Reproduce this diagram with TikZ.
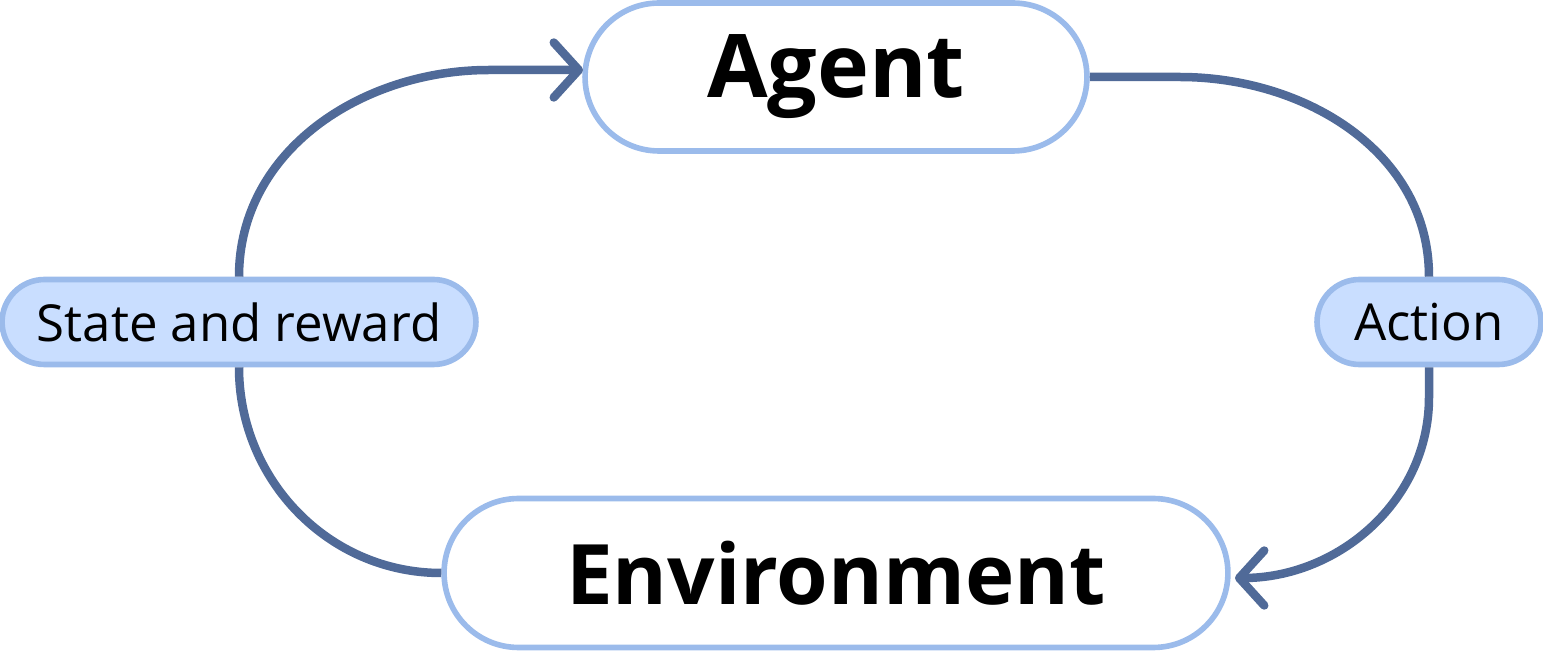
\documentclass[tikz,border=0pt]{standalone}
\usepackage{fontspec}
\setmainfont{Open Sans}
\usepackage{tikz}
\usetikzlibrary{arrows.meta, shapes.misc}
\definecolor{linkblue}{RGB}{80,106,152}
\definecolor{edgeblue}{RGB}{155,187,235}
\definecolor{tagfill}{RGB}{201,222,255}
\tikzset{
  stage/.style={
    rounded rectangle,
    draw=edgeblue,
    fill=white,
    line width=3.2pt,
    inner sep=0pt,
    font=\fontsize{50}{56}\selectfont\bfseries
  },
  tag/.style={
    rounded rectangle,
    draw=edgeblue,
    fill=tagfill,
    line width=3.2pt,
    inner sep=0pt,
    minimum height=1.70cm,
    font=\fontsize{29}{34}\selectfont
  },
  link/.style={
    line width=0.17cm,
    color=linkblue
  },
  tip/.style={
    -{Straight Barb[round, length=0.5cm, width=1.1cm]}
  }
}

\begin{document}
\begin{tikzpicture}[x=0.02cm, y=-0.02cm]
    \useasboundingbox (0,0) rectangle (1543,651);

    % arrow ends
    \coordinate (agentin) at (583,70);
    \coordinate (envin) at (1235,578);

    % main boxes
    \node[stage, minimum width=10.04cm, minimum height=2.96cm] (agent) at (836,77) {Agent};
    \node[stage, minimum width=15.68cm, minimum height=2.98cm,
          font=\fontsize{47.5}{54}\selectfont\bfseries] (env) at (836,573) {Environment};

    % labels on the loop
    \node[tag, minimum width=9.48cm] (state) at (239,322) {State and reward};
    \node[tag, minimum width=4.48cm] (action) at (1429,322) {Action};

    % loop
    \draw[link] (env.west) to[out=180, in=-90] (state.south);
    \draw[link, tip] (state.north) to[out=90, in=180] ([xshift=-1.88cm]agentin) -- (agentin);
    \draw[link] (agent.east) -- ++(90,0) to[out=0, in=90] (action.north);
    \draw[link, tip] (action.south) -- ++(0,30) to[out=-90, in=0] (envin);

\end{tikzpicture}
\end{document}
